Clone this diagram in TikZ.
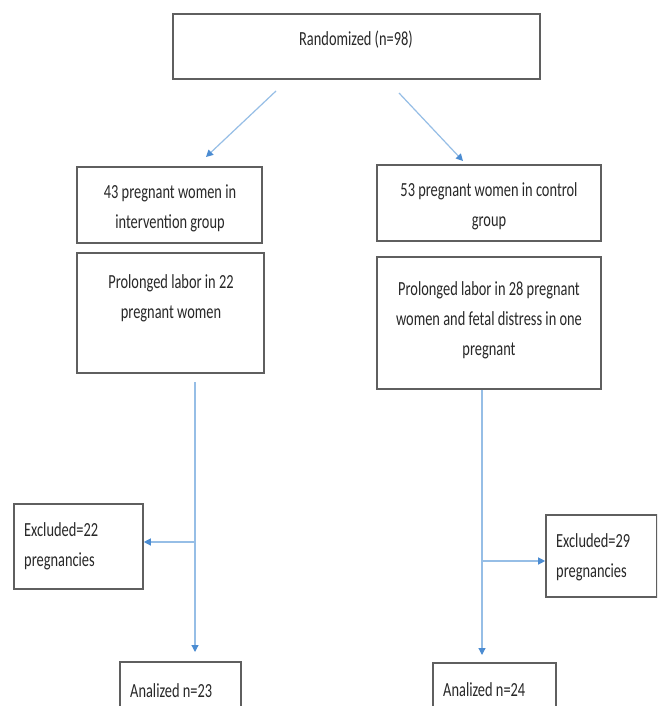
\documentclass[tikz,border=0pt]{standalone}
\usepackage{fontspec}
\setmainfont{Carlito}[FakeStretch=0.72]
\usetikzlibrary{arrows.meta}
\definecolor{boxgray}{RGB}{95,95,95}
\definecolor{linkblue}{RGB}{150,190,230}
\definecolor{tipblue}{RGB}{75,140,210}
\definecolor{txtcol}{RGB}{40,40,40}
\tikzset{
  box/.style={draw=boxgray, line width=1.6pt, inner sep=0pt, rectangle},
  txt/.style={font=\fontsize{20}{30}\selectfont, text=txtcol, inner sep=0pt, align=center},
  ltxt/.style={txt, align=left, anchor=west},
  link/.style={draw=linkblue, line width=1.2pt},
  arr/.style={link, -{Triangle[width=7pt,length=7pt,color=tipblue]}},
}
\begin{document}
\begin{tikzpicture}[x=1pt,y=-1pt]
\useasboundingbox (0,0) rectangle (657,706);
\clip (0,0) rectangle (657,706);
\fill[white] (0,0) rectangle (657,706);

% boxes
\node[box, minimum width=367pt, minimum height=65pt] (top) at (356.5,46.5) {};
\node[box, minimum width=185pt, minimum height=76pt] (l1) at (169.5,205) {};
\node[box, minimum width=224pt, minimum height=76pt] (r1) at (489,203) {};
\node[box, minimum width=187pt, minimum height=120pt] (l2) at (170.5,313) {};
\node[box, minimum width=224pt, minimum height=132pt] (r2) at (489,323) {};
\node[box, minimum width=129pt, minimum height=85pt] (exl) at (78.5,546.5) {};
\node[box, minimum width=111pt, minimum height=82pt] (exr) at (601.5,556) {};
\node[box, minimum width=121pt, minimum height=68pt] (anl) at (180.5,696) {};
\node[box, minimum width=123pt, minimum height=68pt] (anr) at (494.5,697) {};

% texts
\node[txt] (t0) at (356,40) {Randomized (n=98)};
\node[txt] (t1) at (170,208) {43 pregnant women in\\intervention group};
\node[txt] (t2) at (489,206) {53 pregnant women in control\\group};
\node[txt] (t3) at (171,298) {Prolonged labor in 22\\pregnant women};
\node[txt] (t4) at (489,320) {Prolonged labor in 28 pregnant\\women and fetal distress in one\\pregnant};
\node[ltxt] (t5) at (24,546) {Excluded=22\\pregnancies};
\node[ltxt] (t6) at (556,557) {Excluded=29\\pregnancies};
\node[ltxt] (t7) at (130,691) {Analized n=23};
\node[ltxt] (t8) at (443,690) {Analized n=24};

% connector coordinates
\coordinate (d1s) at (276,91);
\coordinate (d1e) at (206,157);
\coordinate (d2s) at (399,93);
\coordinate (d2e) at (463,161);
\coordinate (lvs) at (195,382);
\coordinate (lb) at (195,542);
\coordinate (lve) at (195,652);
\coordinate (rvs) at (482,390);
\coordinate (rb) at (482,561);
\coordinate (rve) at (482,655);

\draw[arr] (d1s) -- (d1e);
\draw[arr] (d2s) -- (d2e);
\draw[arr] (lvs) -- (lve);
\draw[arr] (lb) -- (lb -| exl.east);
\draw[arr] (rvs) -- (rve);
\draw[arr] (rb) -- (rb -| exr.west);
\end{tikzpicture}
\end{document}
